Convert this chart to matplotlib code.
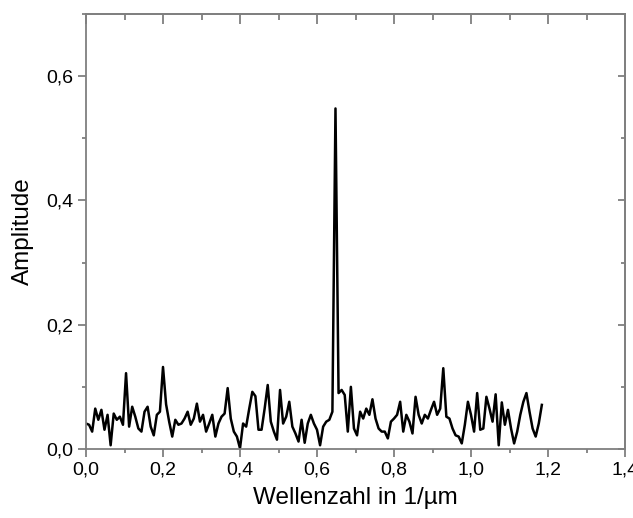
import numpy as np
import matplotlib
matplotlib.use("Agg")
import matplotlib.pyplot as plt
from matplotlib.ticker import MultipleLocator, FuncFormatter

# Data: amplitude spectrum, evenly spaced wavenumber bins
x_start = 0.0
x_step = 0.008
amplitude = [
    0.041, 0.039, 0.028, 0.065, 0.047, 0.063, 0.031, 0.055, 0.006, 0.057,
    0.047, 0.052, 0.039, 0.122, 0.036, 0.068, 0.052, 0.033, 0.028, 0.060,
    0.068, 0.036, 0.022, 0.055, 0.060, 0.132,
    0.072, 0.044, 0.020, 0.047, 0.039, 0.041, 0.049, 0.060, 0.039, 0.049,
    0.073, 0.044, 0.055, 0.028, 0.041, 0.055, 0.020, 0.041, 0.052, 0.057,
    0.098, 0.049, 0.028, 0.020, 0.001,
    0.041, 0.036, 0.065, 0.092, 0.085, 0.031, 0.031, 0.065, 0.103, 0.044,
    0.028, 0.015, 0.095, 0.041, 0.052, 0.076, 0.036, 0.025, 0.012, 0.047,
    0.010, 0.041, 0.055, 0.041, 0.031,
    0.006, 0.036, 0.044, 0.047, 0.060, 0.548, 0.090, 0.095, 0.087, 0.028,
    0.100, 0.033, 0.022, 0.060, 0.049, 0.065, 0.055, 0.080, 0.049, 0.033,
    0.028, 0.028, 0.017, 0.044, 0.049,
    0.055, 0.076, 0.028, 0.055, 0.044, 0.025, 0.084, 0.055, 0.041, 0.055,
    0.049, 0.063, 0.076, 0.055, 0.065, 0.130, 0.052, 0.049, 0.033, 0.022,
    0.020, 0.009, 0.039, 0.076, 0.055,
    0.028, 0.090, 0.031, 0.033, 0.084, 0.065, 0.044, 0.088, 0.006, 0.075,
    0.039, 0.063, 0.033, 0.009, 0.028, 0.055, 0.076, 0.090, 0.060, 0.033,
    0.020, 0.041, 0.071,
]
wavenumber = x_start + x_step * np.arange(len(amplitude))

x_label = "Wellenzahl in 1/µm"
y_label = "Amplitude"

plt.rcParams["font.family"] = ["Liberation Sans", "DejaVu Sans"]

fig = plt.figure(figsize=(6.33, 5.18), dpi=100)
ax = fig.add_axes([86 / 633, 1 - 449 / 518, (625 - 86) / 633, (449 - 14) / 518])

ax.plot(wavenumber, amplitude, color="black", linewidth=1.8)

ax.set_xlim(0, 1.4)
ax.set_ylim(0, 0.7)

ax.xaxis.set_major_locator(MultipleLocator(0.2))
ax.xaxis.set_minor_locator(MultipleLocator(0.1))
ax.yaxis.set_major_locator(MultipleLocator(0.2))
ax.yaxis.set_minor_locator(MultipleLocator(0.1))

fmt = FuncFormatter(lambda v, p: f"{v:.1f}".replace(".", ","))
ax.xaxis.set_major_formatter(fmt)
ax.yaxis.set_major_formatter(fmt)

axis_col = "#7f7f7f"
for s in ax.spines.values():
    s.set_color(axis_col)
    s.set_linewidth(1.3)

ax.tick_params(which="both", direction="out", color=axis_col, width=1.3,
               labelsize=14, labelcolor="black")
ax.tick_params(which="major", length=6, pad=3)
ax.tick_params(which="minor", length=3)

# mirrored inward ticks on top and right
secx = ax.secondary_xaxis("top")
secx.xaxis.set_major_locator(MultipleLocator(0.2))
secx.xaxis.set_minor_locator(MultipleLocator(0.1))
secx.tick_params(which="both", direction="in", color=axis_col, width=1.3,
                 labeltop=False)
secx.tick_params(which="major", length=7)
secx.tick_params(which="minor", length=4)
secx.spines["top"].set_color(axis_col)
secx.spines["top"].set_linewidth(1.3)

secy = ax.secondary_yaxis("right")
secy.yaxis.set_major_locator(MultipleLocator(0.2))
secy.yaxis.set_minor_locator(MultipleLocator(0.1))
secy.tick_params(which="both", direction="in", color=axis_col, width=1.3,
                 labelright=False)
secy.tick_params(which="major", length=5)
secy.tick_params(which="minor", length=3)
secy.spines["right"].set_color(axis_col)
secy.spines["right"].set_linewidth(1.3)

ax.set_xlabel(x_label, fontsize=17.5, labelpad=6)
ax.set_ylabel(y_label, fontsize=17.5, labelpad=9)

fig.savefig("out.png", dpi=100)
